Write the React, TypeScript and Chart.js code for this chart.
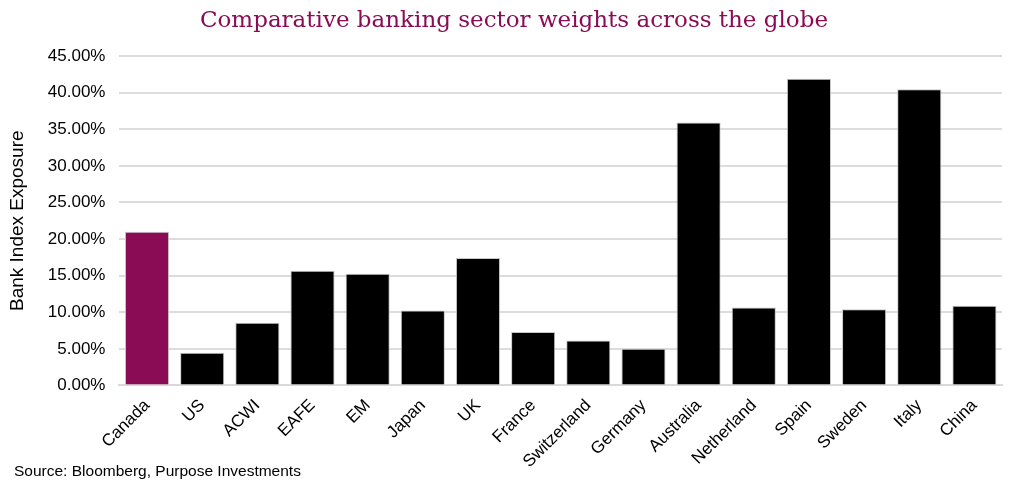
import { useEffect, useRef } from 'react';
import { Chart, registerables } from 'chart.js';

Chart.register(...registerables);

const markets = [
  'Canada', 'US', 'ACWI', 'EAFE', 'EM', 'Japan', 'UK', 'France',
  'Switzerland', 'Germany', 'Australia', 'Netherland', 'Spain', 'Sweden', 'Italy', 'China',
];
// bank sector weight, % of index
const bankWeights = [
  21.0, 4.45, 8.55, 15.65, 15.25, 10.25, 17.4, 7.3,
  6.15, 5.0, 35.9, 10.65, 41.9, 10.4, 40.45, 10.9,
];
const yTicks = [0, 5, 10, 15, 20, 25, 30, 35, 40, 45];

const PLUM = '#8A0C55';
const SANS = '"Liberation Sans", Arial, sans-serif';

export default function App() {
  const canvasRef = useRef<HTMLCanvasElement>(null);

  useEffect(() => {
    document.body.style.margin = '0';
    if (!canvasRef.current) return;

    const chart = new Chart(canvasRef.current, {
      type: 'bar',
      data: {
        labels: markets,
        datasets: [
          {
            data: bankWeights,
            backgroundColor: markets.map((m) => (m === 'Canada' ? PLUM : '#000000')),
            borderColor: '#c8c8c8',
            borderWidth: 1,
            barPercentage: 0.8,
            categoryPercentage: 1,
          },
        ],
      },
      options: {
        animation: false,
        responsive: false,
        maintainAspectRatio: false,
        layout: { padding: { top: 56, right: 22, bottom: 16, left: 6 } },
        plugins: {
          legend: { display: false },
          tooltip: { enabled: false },
        },
        scales: {
          x: {
            grid: { display: false },
            border: { color: '#d9d9d9', width: 2 },
            ticks: {
              color: '#000000',
              font: { family: SANS, size: 17 },
              maxRotation: 45,
              minRotation: 45,
              padding: 2,
            },
          },
          y: {
            min: 0,
            max: 45,
            afterBuildTicks: (axis) => {
              axis.ticks = yTicks.map((v) => ({ value: v }));
            },
            grid: { color: '#dcdcdc', lineWidth: 2, drawTicks: false },
            border: { display: false },
            ticks: {
              color: '#000000',
              font: { family: SANS, size: 17 },
              padding: 14,
              callback: (v) => Number(v).toFixed(2) + '%',
            },
            title: {
              display: true,
              text: 'Bank Index Exposure',
              color: '#000000',
              font: { family: SANS, size: 19 },
              padding: { top: 0, bottom: 5 },
            },
          },
        },
      },
    });

    return () => chart.destroy();
  }, []);

  return (
    <div style={{ position: 'relative', width: 1024, height: 490, background: '#ffffff' }}>
      <div
        style={{
          position: 'absolute',
          left: 0,
          width: 1028,
          top: 6,
          textAlign: 'center',
          fontFamily: 'Georgia, "DejaVu Serif", serif',
          fontSize: 23,
          color: PLUM,
        }}
      >
        Comparative banking sector weights across the globe
      </div>
      <canvas ref={canvasRef} width={1024} height={490} style={{ display: 'block' }} />
      <div
        style={{
          position: 'absolute',
          left: 14,
          top: 462,
          fontFamily: SANS,
          fontSize: 15.5,
          color: '#000000',
        }}
      >
        Source: Bloomberg, Purpose Investments
      </div>
    </div>
  );
}
